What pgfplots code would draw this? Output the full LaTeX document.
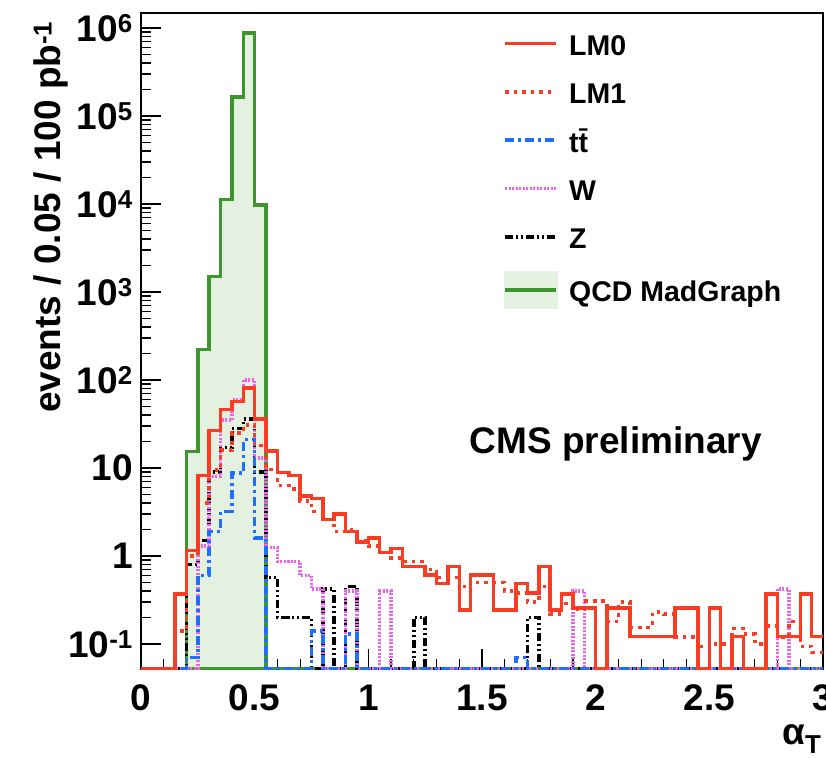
\documentclass[border=0pt]{standalone}
\usepackage{fontspec}
\setmainfont{Liberation Sans}
\usepackage{pgfplots}
\pgfplotsset{compat=1.18}
\usepackage{pgfplotstable}

\definecolor{lmred}{RGB}{250,60,35}
\definecolor{ttblue}{RGB}{30,110,255}
\definecolor{wmag}{RGB}{235,100,235}
\definecolor{qcdline}{RGB}{60,150,45}
\definecolor{qcdfill}{RGB}{228,241,224}

\newcommand{\bigfont}{\fontsize{37}{40}\selectfont\bfseries}
\newcommand{\legfont}{\fontsize{28.5}{30}\selectfont\bfseries}

% alpha_T histograms, bins of 0.05, left bin edge in column x
% (the last row repeats the last bin so the step closes at 3)
\pgfplotstableread{
x    lm0   lm1   tt    w     z     qcd
0.00 0     0     0     0     0     0
0.05 0     0     0     0     0     0
0.10 0     0     0     0     0     0
0.15 0.37  0.14  0     0     0     0
0.20 1.15  1.0   0.07  0     0.8   15.5
0.25 8.2   4.0   0.6   1.3   1.5   221
0.30 26.7  9.5   1.9   8     9     1500
0.35 46.5  16    3.2   35    17    11200
0.40 57    25    8.8   60    28    164000
0.45 81    31    21    100   36    880000
0.50 36    18    1.6   13    9     9800
0.55 15.7  9.6   0     1.25  0.57  0
0.60 8.9   6.3   0     0.87  0.2   0
0.65 8.2   5.8   0     0.87  0.2   0
0.70 4.8   4.2   0     0.6   0.2   0
0.75 4.5   3.2   0.14  0.42  0     0
0.80 2.6   2.6   0     0     0.42  0
0.85 3.0   1.9   0     0     0     0
0.90 1.9   2.0   0.13  0.4   0.45  0
0.95 1.45  1.5   0     0     0     0
1.00 1.6   1.3   0     0     0     0
1.05 1.1   1.1   0     0.4   0     0
1.10 1.22  0.95  0     0     0     0
1.15 0.76  0.87  0     0     0     0
1.20 0.76  0.87  0     0     0.2   0
1.25 0.61  0.7   0     0     0     0
1.30 0.49  0.57  0     0     0     0
1.35 0.76  0.57  0     0     0     0
1.40 0.245 0.45  0     0     0     0
1.45 0.61  0.5   0     0     0     0
1.50 0.61  0.5   0     0     0     0
1.55 0.245 0.5   0     0     0     0
1.60 0.245 0.4   0     0     0     0
1.65 0.49  0.38  0.07  0     0     0
1.70 0.38  0.3   0     0     0.2   0
1.75 0.76  0.45  0     0     0     0
1.80 0.245 0.22  0     0     0     0
1.85 0.37  0.29  0     0     0     0
1.90 0.257 0.25  0     0.4   0     0
1.95 0.257 0.31  0     0     0     0
2.00 0     0.31  0     0     0     0
2.05 0.257 0.18  0     0     0     0
2.10 0.257 0.3   0     0     0     0
2.15 0.122 0.155 0     0     0     0
2.20 0.122 0.155 0     0     0     0
2.25 0.122 0.23  0     0     0     0
2.30 0.122 0.22  0     0     0     0
2.35 0.257 0.12  0     0     0     0
2.40 0.257 0.12  0     0     0     0
2.45 0     0.094 0     0     0     0
2.50 0.257 0.1   0     0     0     0
2.55 0     0.1   0     0     0     0
2.60 0.122 0.15  0     0     0     0
2.65 0     0.13  0     0     0     0
2.70 0     0.1   0     0     0     0
2.75 0.37  0.16  0     0     0     0
2.80 0.122 0.12  0     0.42  0     0
2.85 0.122 0.18  0     0     0     0
2.90 0.37  0.094 0     0     0     0
2.95 0.122 0.08  0     0     0     0
3.00 0.122 0.08  0     0     0     0
}\hist

\begin{document}
\begin{tikzpicture}
\path[use as bounding box] (0,0) rectangle (826pt,757pt);
\begin{axis}[
  at={(141pt,88pt)}, anchor=south west, scale only axis,
  width=682pt, height=656pt,
  ymode=log, log origin y=infty,
  xmin=0, xmax=3, ymin=0.052, ymax=1.48e6,
  axis line style={line width=2.2pt},
  xtick={0,0.5,1,1.5,2,2.5,3},
  xticklabels={0,0.5,1,1.5,2,2.5,3},
  minor x tick num=4,
  ytick={0.1,1,10,100,1000,10000,100000,1000000},
  yticklabels={10\textsuperscript{-1},1,10,10\textsuperscript{2},10\textsuperscript{3},10\textsuperscript{4},10\textsuperscript{5},10\textsuperscript{6}},
  tick align=inside, xtick pos=bottom, ytick pos=left,
  major tick length=20pt, minor tick length=10pt,
  tick style={line width=1.2pt, black},
  ticklabel style={font=\bigfont},
  xticklabel style={anchor=base, inner sep=0pt, yshift=-41pt},
  yticklabel style={anchor=east, inner sep=0pt, xshift=-8pt},
  reverse legend,
  legend cell align=left,
  legend style={draw=none, fill=none, font=\legfont,
    at={(0.527,0.978)}, anchor=north west,
    row sep=20.3pt, column sep=11pt,
    nodes={inner sep=0pt, text height=26pt, text depth=2pt}},
  legend image code/.code={\draw[#1] (0pt,0pt) -- (51pt,0pt);},
  hist/.style={const plot mark left, no markers, line width=3.5pt},
]
\addplot[hist, qcdline, fill=qcdfill,
  legend image code/.code={\fill[qcdfill] (0pt,-17pt) rectangle (51pt,17pt);
    \draw[qcdline, line width=3.5pt] (0pt,0pt) -- (51pt,0pt);}]
  table[x=x, y expr={max(\thisrow{qcd},0.053)}] {\hist} \closedcycle;
\addlegendentry{QCD MadGraph}
\addplot[hist, black, dash pattern=on 8pt off 3pt on 2pt off 3pt on 2pt off 3pt]
  table[x=x, y expr={max(\thisrow{z},0.053)}] {\hist};
\addlegendentry{Z}
\addplot[hist, wmag, dash pattern=on 2pt off 1.5pt]
  table[x=x, y expr={max(\thisrow{w},0.053)}] {\hist};
\addlegendentry{W}
\addplot[hist, ttblue, dash pattern=on 9pt off 4pt on 3pt off 4pt]
  table[x=x, y expr={max(\thisrow{tt},0.053)}] {\hist};
\addlegendentry{t\=t}
\addplot[hist, lmred, dash pattern=on 3.5pt off 5pt]
  table[x=x, y expr={max(\thisrow{lm1},0.053)}] {\hist};
\addlegendentry{LM1}
\addplot[hist, lmred]
  table[x=x, y expr={max(\thisrow{lm0},0.053)}] {\hist};
\addlegendentry{LM0}
\node[anchor=base, font=\bigfont] at (axis description cs:0.696,0.329) {CMS preliminary};
\end{axis}
\node[rotate=90, font=\bigfont] at (51pt,540pt) {events / 0.05 / 100 pb\textsuperscript{-1}};
\node[anchor=base east, font=\bigfont] at (825pt,13pt) {α\textsubscript{T}};
\end{tikzpicture}
\end{document}
